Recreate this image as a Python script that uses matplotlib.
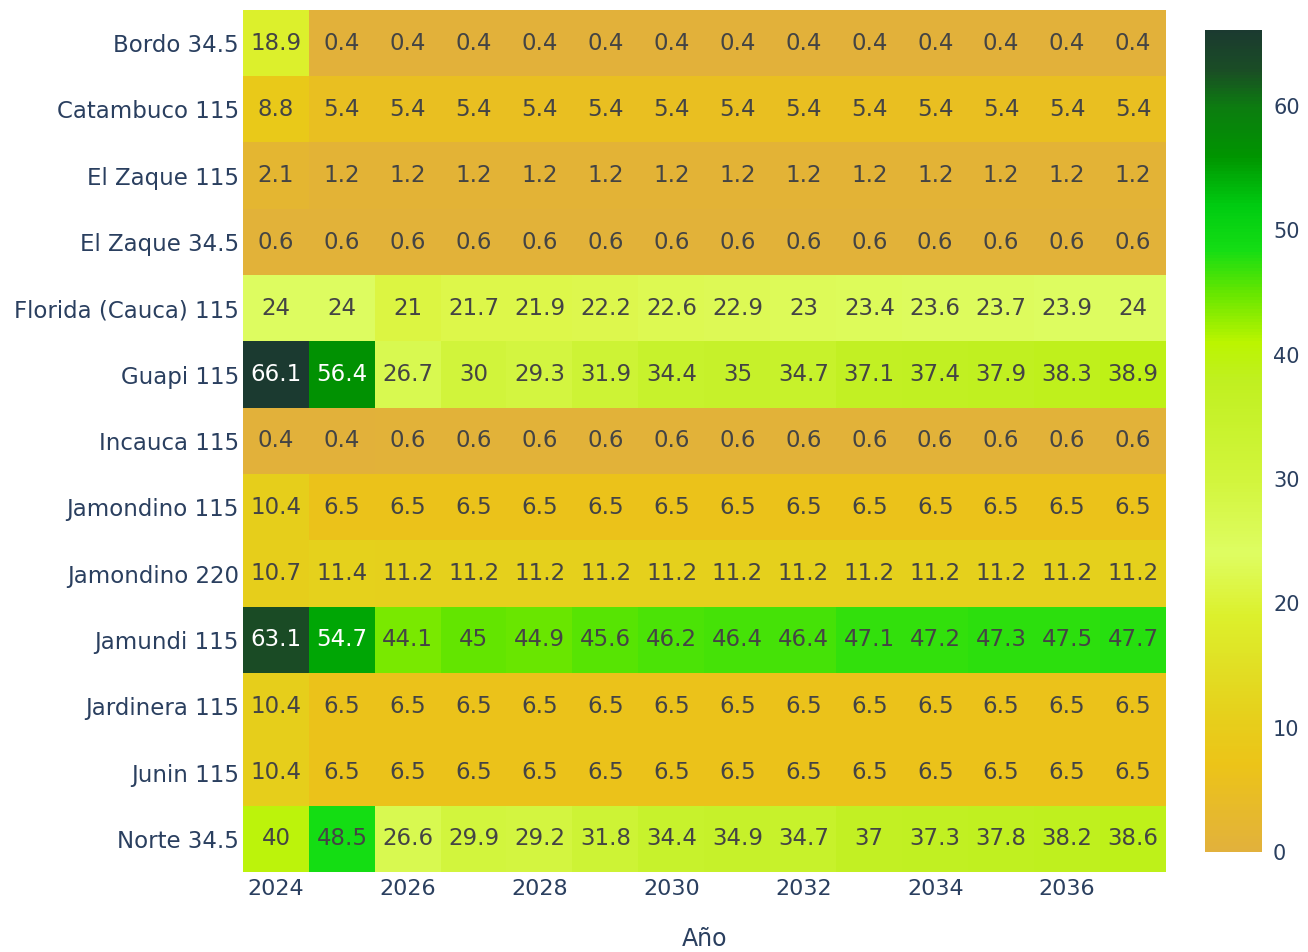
import numpy as np
import matplotlib
matplotlib.use("Agg")
from matplotlib import pyplot as plt
from matplotlib.colors import LinearSegmentedColormap

years = [2024, 2025, 2026, 2027, 2028, 2029, 2030, 2031, 2032, 2033, 2034, 2035, 2036, 2037]
stations = ["Bordo 34.5", "Catambuco 115", "El Zaque 115", "El Zaque 34.5",
            "Florida (Cauca) 115", "Guapi 115", "Incauca 115", "Jamondino 115",
            "Jamondino 220", "Jamundi 115", "Jardinera 115", "Junin 115", "Norte 34.5"]

bordo_345 = [18.9, 0.4, 0.4, 0.4, 0.4, 0.4, 0.4, 0.4, 0.4, 0.4, 0.4, 0.4, 0.4, 0.4]
catambuco_115 = [8.8, 5.4, 5.4, 5.4, 5.4, 5.4, 5.4, 5.4, 5.4, 5.4, 5.4, 5.4, 5.4, 5.4]
el_zaque_115 = [2.1, 1.2, 1.2, 1.2, 1.2, 1.2, 1.2, 1.2, 1.2, 1.2, 1.2, 1.2, 1.2, 1.2]
el_zaque_345 = [0.6, 0.6, 0.6, 0.6, 0.6, 0.6, 0.6, 0.6, 0.6, 0.6, 0.6, 0.6, 0.6, 0.6]
florida_115 = [24, 24, 21, 21.7, 21.9, 22.2, 22.6, 22.9, 23, 23.4, 23.6, 23.7, 23.9, 24]
guapi_115 = [66.1, 56.4, 26.7, 30, 29.3, 31.9, 34.4, 35, 34.7, 37.1, 37.4, 37.9, 38.3, 38.9]
incauca_115 = [0.4, 0.4, 0.6, 0.6, 0.6, 0.6, 0.6, 0.6, 0.6, 0.6, 0.6, 0.6, 0.6, 0.6]
jamondino_115 = [10.4, 6.5, 6.5, 6.5, 6.5, 6.5, 6.5, 6.5, 6.5, 6.5, 6.5, 6.5, 6.5, 6.5]
jamondino_220 = [10.7, 11.4, 11.2, 11.2, 11.2, 11.2, 11.2, 11.2, 11.2, 11.2, 11.2, 11.2, 11.2, 11.2]
jamundi_115 = [63.1, 54.7, 44.1, 45, 44.9, 45.6, 46.2, 46.4, 46.4, 47.1, 47.2, 47.3, 47.5, 47.7]
jardinera_115 = [10.4, 6.5, 6.5, 6.5, 6.5, 6.5, 6.5, 6.5, 6.5, 6.5, 6.5, 6.5, 6.5, 6.5]
junin_115 = [10.4, 6.5, 6.5, 6.5, 6.5, 6.5, 6.5, 6.5, 6.5, 6.5, 6.5, 6.5, 6.5, 6.5]
norte_345 = [40, 48.5, 26.6, 29.9, 29.2, 31.8, 34.4, 34.9, 34.7, 37, 37.3, 37.8, 38.2, 38.6]

z = np.array([bordo_345, catambuco_115, el_zaque_115, el_zaque_345, florida_115,
              guapi_115, incauca_115, jamondino_115, jamondino_220, jamundi_115,
              jardinera_115, junin_115, norte_345])

vmax = z.max()
# colour stops in data units
stops = [(0, "#E2B13C"), (7, "#ECC418"), (11, "#E6D01C"), (18.9, "#DCF02C"),
         (24, "#DEFD62"), (30, "#D2F53C"), (38, "#C0F020"), (41, "#BBF500"),
         (45, "#66E600"), (48.5, "#14DD14"), (52, "#00CC11"), (56, "#009500"),
         (60, "#0C7C10"), (63, "#1A4D25"), (vmax, "#1B3A30")]
cmap = LinearSegmentedColormap.from_list("custom", [(v / vmax, c) for v, c in stops])

txt = "#2A3F5F"
fig = plt.figure(figsize=(13.08, 9.52), dpi=100)
ax = fig.add_axes([243/1308, 1 - 872/952, (1166-243)/1308, (872-10)/952])
im = ax.imshow(z, cmap=cmap, vmin=0, vmax=vmax, aspect="auto",
               extent=(years[0]-0.5, years[-1]+0.5, len(stations)-0.5, -0.5),
               interpolation="nearest")

for i in range(z.shape[0]):
    for j in range(z.shape[1]):
        v = z[i, j]
        ax.text(years[j], i, f"{v:g}", ha="center", va="center", fontsize=16.5,
                color="white" if v > 52 else "#444444")

ax.set_yticks(range(len(stations)))
ax.set_yticklabels(stations, fontsize=16.5, color=txt)
ax.tick_params(axis="y", length=0, pad=3)
ax.set_xticks(years[::2])
ax.set_xticklabels([str(y) for y in years[::2]], fontsize=16, color=txt)
ax.tick_params(axis="x", length=0, pad=5)
for s in ax.spines.values():
    s.set_visible(False)
ax.set_xlabel("Año", fontsize=17, color=txt, labelpad=20)

cax = fig.add_axes([1205/1308, 1 - 852/952, 57/1308, (852-30)/952])
cb = fig.colorbar(im, cax=cax, ticks=[0, 10, 20, 30, 40, 50, 60])
cb.outline.set_visible(False)
cb.ax.tick_params(length=0, labelsize=15, labelcolor=txt, pad=8)

fig.savefig("out.png", dpi=100)
